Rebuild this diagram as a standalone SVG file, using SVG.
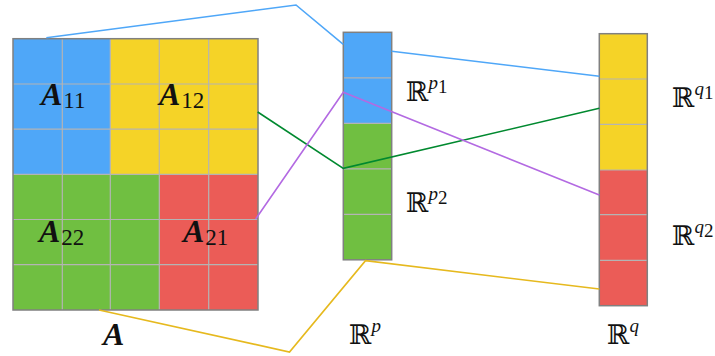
<svg xmlns="http://www.w3.org/2000/svg" width="715" height="356" viewBox="0 0 715 356">
<style>
.b{fill:#4FA7F8}.y{fill:#F5D327}.g{fill:#70BF41}.r{fill:#EB5C57}
.grid{stroke:#B4B4B4;stroke-width:1.2;fill:none}
.frame{stroke:#808080;stroke-width:1.5;fill:none}
.c{fill:none;stroke-width:1.6;stroke-linejoin:miter}
.m{font-family:"Liberation Serif","DejaVu Serif",serif;font-weight:bold;font-style:italic;font-size:32px;fill:#111}
.s{font-family:"Liberation Serif","DejaVu Serif",serif;font-size:23px;fill:#111}
.bb{font-family:"DejaVu Serif",serif;font-size:27px;fill:#111}
.sp{font-family:"Liberation Serif","DejaVu Serif",serif;font-size:19px;fill:#111}
</style>
<g id="matrixA">
<rect class="b" x="13" y="38.7" width="97.3" height="135.6"/>
<rect class="y" x="110.3" y="38.7" width="147.7" height="135.6"/>
<rect class="g" x="13" y="174.3" width="146.3" height="135.7"/>
<rect class="r" x="159.3" y="174.3" width="98.7" height="135.7"/>
<path class="grid" d="M62.3 38.7V310M110.3 38.7V310M159.3 38.7V310M208.7 38.7V310M13 84H258M13 129.2H258M13 174.3H258M13 219.5H258M13 264.7H258"/>
<rect class="frame" x="13" y="38.7" width="245" height="271.3"/>
<text class="m" x="41" y="105">A<tspan class="s" font-weight="normal" font-style="normal" dx="1" dy="3">11</tspan></text>
<text class="m" x="159" y="105">A<tspan class="s" font-weight="normal" font-style="normal" dx="1" dy="3">12</tspan></text>
<text class="m" x="39" y="242">A<tspan class="s" font-weight="normal" font-style="normal" dx="1" dy="3">22</tspan></text>
<text class="m" x="183" y="242">A<tspan class="s" font-weight="normal" font-style="normal" dx="1" dy="3">21</tspan></text>
<text class="m" x="103" y="345">A</text>
</g>
<g id="vectorP">
<rect class="b" x="343.3" y="32.3" width="48.4" height="91"/>
<rect class="g" x="343.3" y="123.3" width="48.4" height="136.5"/>
<path class="grid" d="M343.3 77.8H391.7M343.3 123.3H391.7M343.3 168.8H391.7M343.3 214.3H391.7"/>
<rect class="frame" x="343.3" y="32.3" width="48.4" height="227.5"/>
<text class="bb" x="406" y="101">ℝ<tspan class="sp" font-style="italic" dy="-12">p</tspan><tspan class="sp" font-size="15" dy="4">1</tspan></text>
<text class="bb" x="406" y="212">ℝ<tspan class="sp" font-style="italic" dy="-12">p</tspan><tspan class="sp" font-size="15" dy="4">2</tspan></text>
<text class="bb" x="349" y="344">ℝ<tspan class="sp" font-style="italic" dy="-12">p</tspan></text>
</g>
<g id="vectorQ">
<rect class="y" x="599.3" y="33.7" width="48" height="136.3"/>
<rect class="r" x="599.3" y="170" width="48" height="135.7"/>
<path class="grid" d="M599.3 79H647.3M599.3 124.3H647.3M599.3 170H647.3M599.3 214.7H647.3M599.3 260.3H647.3"/>
<rect class="frame" x="599.3" y="33.7" width="48" height="272"/>
<text class="bb" x="672" y="107">ℝ<tspan class="sp" font-style="italic" dy="-12">q</tspan><tspan class="sp" font-size="15" dy="4">1</tspan></text>
<text class="bb" x="672" y="245">ℝ<tspan class="sp" font-style="italic" dy="-12">q</tspan><tspan class="sp" font-size="15" dy="4">2</tspan></text>
<text class="bb" x="607" y="344">ℝ<tspan class="sp" font-style="italic" dy="-12">q</tspan></text>
</g>
<g id="connectors">
<polyline class="c" stroke="#4FA7F8" points="46.3,37.7 296,5 343.3,44.3"/>
<polyline class="c" stroke="#4FA7F8" points="391.7,51.3 599.3,76.3"/>
<polyline class="c" stroke="#00892F" points="257.7,112 343.3,168.3 599.3,108.3"/>
<polyline class="c" stroke="#B36AE2" points="255.7,219 343.3,92.3 599.3,195"/>
<polyline class="c" stroke="#E6B91E" points="99,310 289.5,352 365.5,260.7 599.3,289"/>
</g>
</svg>
